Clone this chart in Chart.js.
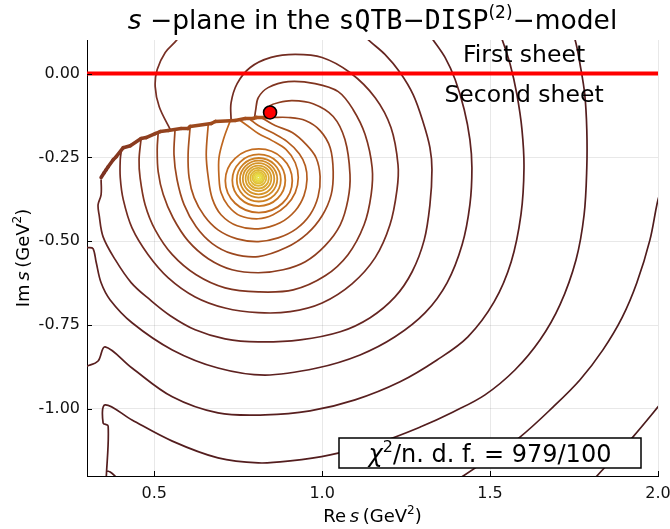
<!DOCTYPE html>
<html>
<head>
<meta charset="utf-8">
<script src="https://cdn.jsdelivr.net/npm/chart.js@4.4.0/dist/chart.umd.min.js"></script>
<style>
  html, body { margin: 0; padding: 0; background: #ffffff; }
  #wrap { width: 670px; height: 529px; }
</style>
</head>
<body>
<div id="wrap"><canvas id="c" width="670" height="529"></canvas></div>
<script>
// ---- axes -------------------------------------------------------------
const reRange = [0.3, 2.0];
const imRange = [-1.2, 0.1];
const reTicks = [0.5, 1.0, 1.5, 2.0];
const imTicks = [0.0, -0.25, -0.5, -0.75, -1.0];

// ---- texts ------------------------------------------------------------
const sheetLabels = ['First sheet', 'Second sheet'];
const chi2Value = '979/100';

// ---- marks ------------------------------------------------------------
// branch point
const branchPoint = [[0.845, -0.116]];
// boundary between the first and the second sheet (Im s = 0)
const sheetBoundary = [[0.3, 0.0], [2.0, 0.0]];
// cut of the continuation: level curves pile up along it
const cutLine = [
  [0.342,-0.310],[0.351,-0.296],[0.357,-0.287],[0.363,-0.278],[0.378,-0.257],[0.387,-0.248],
  [0.408,-0.221],[0.429,-0.215],[0.461,-0.194],[0.476,-0.191],[0.503,-0.179],[0.518,-0.173],
  [0.542,-0.170],[0.580,-0.164],[0.601,-0.164],[0.607,-0.158],[0.670,-0.149],[0.682,-0.143],
  [0.741,-0.140],[0.771,-0.134],[0.795,-0.134],[0.804,-0.131],[0.839,-0.131]
];

// closed level curves around the pole: extreme Re / Im of each curve (inner -> outer)
const ringReMax = [0.8145,0.8189,0.8234,0.8279,0.8338,0.8413,0.8487,0.8576,0.8665,0.8770,0.8904,0.9112];
const ringReMin = [0.8055,0.8011,0.7966,0.7921,0.7862,0.7793,0.7722,0.7639,0.7555,0.7460,0.7326,0.7118];
const ringImMax = [-0.3055,-0.3010,-0.2972,-0.2930,-0.2876,-0.2813,-0.2748,-0.2673,-0.2599,-0.2518,-0.2413,-0.2249];
const ringImMin = [-0.3145,-0.3190,-0.3237,-0.3285,-0.3348,-0.3428,-0.3506,-0.3601,-0.3697,-0.3816,-0.3951,-0.4145];
const ringColors = ['#e8e24c','#e6d743','#e4cc3d','#e1c038','#deb433','#dba830','#d89e2c','#d59429',
                    '#d18a27','#cd8024','#c97622','#c46d21'];

// open level curves, ending on the cut or on the frame
const levelG = [[0.756,-0.140],[0.777,-0.155],[0.810,-0.179],[0.851,-0.200],[0.893,-0.227],[0.920,-0.266],
  [0.929,-0.310],[0.920,-0.355],[0.893,-0.394],[0.854,-0.421],[0.810,-0.433],[0.756,-0.424],[0.720,-0.394],
  [0.699,-0.355],[0.693,-0.310],[0.693,-0.251],[0.708,-0.191],[0.726,-0.142]];
const levelF = [[0.786,-0.137],[0.810,-0.155],[0.851,-0.176],[0.896,-0.203],[0.932,-0.239],[0.950,-0.275],
  [0.955,-0.316],[0.946,-0.364],[0.920,-0.409],[0.875,-0.445],[0.810,-0.463],[0.747,-0.454],[0.699,-0.421],
  [0.673,-0.373],[0.661,-0.310],[0.655,-0.242],[0.661,-0.151]];
const levelE = [[0.822,-0.133],[0.860,-0.155],[0.911,-0.176],[0.953,-0.212],[0.982,-0.251],
  [0.994,-0.307],[0.988,-0.367],[0.964,-0.421],[0.923,-0.463],[0.869,-0.490],[0.810,-0.501],[0.747,-0.493],
  [0.690,-0.466],[0.649,-0.424],[0.619,-0.370],[0.604,-0.310],[0.601,-0.242],[0.607,-0.160]];
const levelD = [[0.851,-0.131],[0.899,-0.131],[0.950,-0.140],[0.994,-0.170],[1.024,-0.221],[1.033,-0.293],
  [1.027,-0.361],[1.000,-0.424],[0.955,-0.478],[0.893,-0.519],[0.810,-0.546],[0.732,-0.537],[0.673,-0.507],
  [0.625,-0.457],[0.589,-0.391],[0.568,-0.316],[0.559,-0.242],[0.562,-0.168]];
const levelC = [[0.830,-0.116],[0.845,-0.096],[0.869,-0.087],[0.911,-0.081],[0.973,-0.090],[1.033,-0.128],
  [1.068,-0.197],[1.083,-0.301],[1.077,-0.376],[1.054,-0.451],[1.009,-0.513],[0.950,-0.561],[0.884,-0.585],
  [0.810,-0.594],[0.732,-0.585],[0.661,-0.552],[0.601,-0.499],[0.556,-0.430],[0.527,-0.361],[0.512,-0.293],
  [0.509,-0.227],[0.512,-0.176]];
const levelB = [[0.799,-0.131],[0.802,-0.110],[0.810,-0.072],[0.839,-0.042],[0.899,-0.024],[0.979,-0.030],
  [1.048,-0.054],[1.092,-0.107],[1.128,-0.182],[1.149,-0.281],[1.146,-0.361],[1.125,-0.451],[1.077,-0.540],
  [1.009,-0.603],[0.914,-0.645],[0.810,-0.651],[0.711,-0.639],[0.625,-0.600],[0.554,-0.540],[0.503,-0.466],
  [0.473,-0.391],[0.458,-0.310],[0.455,-0.257],[0.461,-0.194]];
const levelA = [[0.729,-0.141],[0.729,-0.087],[0.747,-0.030],[0.786,0.018],[0.848,0.048],[0.920,0.057],
  [1.000,0.048],[1.083,0.003],[1.158,-0.072],[1.205,-0.161],[1.226,-0.272],[1.223,-0.346],[1.202,-0.451],
  [1.158,-0.549],[1.089,-0.627],[1.000,-0.684],[0.905,-0.710],[0.810,-0.713],[0.711,-0.699],[0.622,-0.666],
  [0.542,-0.609],[0.482,-0.540],[0.434,-0.460],[0.408,-0.376],[0.399,-0.310],[0.399,-0.257],[0.402,-0.232]];
const levelTop = [[0.577,0.122],[0.568,0.101],[0.533,0.063],[0.509,0.012],[0.503,-0.039],[0.515,-0.099],[0.548,-0.167]];
const level1 = [[1.119,0.122],[1.137,0.101],[1.187,0.057],[1.232,0.003],[1.271,-0.063],[1.301,-0.146],
  [1.321,-0.221],[1.327,-0.287],[1.321,-0.391],[1.304,-0.496],[1.268,-0.591],[1.217,-0.666],[1.143,-0.728],
  [1.054,-0.770],[0.935,-0.794],[0.810,-0.800],[0.711,-0.791],[0.622,-0.764],[0.548,-0.722],[0.488,-0.675],
  [0.432,-0.624],[0.384,-0.555],[0.348,-0.487],[0.336,-0.421],[0.333,-0.391],[0.342,-0.361],[0.342,-0.316]];
const level2 = [[1.315,0.122],[1.330,0.101],[1.366,0.048],[1.396,-0.018],[1.423,-0.107],[1.440,-0.197],
  [1.446,-0.281],[1.440,-0.391],[1.417,-0.510],[1.372,-0.624],[1.307,-0.713],[1.217,-0.785],[1.113,-0.839],
  [0.985,-0.878],[0.830,-0.899],[0.690,-0.878],[0.554,-0.824],[0.434,-0.743],[0.369,-0.675],[0.342,-0.624],
  [0.327,-0.561],[0.318,-0.522],[0.304,-0.519],[0.280,-0.519]];
const level3 = [[1.524,0.122],[1.536,0.101],[1.560,0.027],[1.580,-0.063],[1.595,-0.167],[1.601,-0.281],
  [1.592,-0.421],[1.563,-0.561],[1.512,-0.681],[1.434,-0.785],[1.342,-0.854],[1.232,-0.919],[1.098,-0.973],
  [0.964,-1.006],[0.830,-1.018],[0.690,-1.012],[0.554,-0.964],[0.434,-0.878],[0.354,-0.815],[0.333,-0.857],
  [0.301,-0.872],[0.280,-0.878]];
const level4 = [[1.741,0.122],[1.753,0.101],[1.768,0.027],[1.782,-0.063],[1.788,-0.167],[1.788,-0.281],
  [1.780,-0.421],[1.756,-0.555],[1.708,-0.690],[1.649,-0.794],[1.574,-0.884],[1.485,-0.958],[1.390,-1.009],
  [1.292,-1.054],[1.173,-1.099],[1.024,-1.137],[0.905,-1.155],[0.810,-1.161],[0.690,-1.146],[0.554,-1.096],
  [0.434,-1.033],[0.354,-0.988],[0.348,-1.042],[0.363,-1.051],[0.357,-1.212]];
const level5 = [[2.012,-0.346],[2.000,-0.376],[1.976,-0.496],[1.937,-0.624],[1.893,-0.728],[1.836,-0.824],
  [1.768,-0.913],[1.688,-0.994],[1.589,-1.084],[1.500,-1.146],[1.420,-1.200],[1.396,-1.215]];
const level5Corner = [[0.360,-1.185],[0.369,-1.188],[0.390,-1.206]];
const level6 = [[2.021,-0.967],[2.000,-0.994],[1.925,-1.084],[1.857,-1.158],[1.818,-1.200],[1.803,-1.218]];

const openLevels = [
  [levelG, '#be661f'], [levelF, '#b35c1e'], [levelE, '#a8521e'], [levelD, '#9b471e'],
  [levelC, '#8d3d1f'], [levelB, '#80341f'], [levelA, '#732c21'], [levelTop, '#772f24'],
  [level1, '#652521'], [level2, '#5d2120'], [level3, '#581f1f'], [level4, '#531d1e'],
  [level5, '#4f1c1d'], [level5Corner, '#4f1c1d'], [level6, '#4b1b1c']
];

// ---- build the datasets ----------------------------------------------
const FONT = '"DejaVu Sans", "Liberation Sans", sans-serif';
const MONO = '"DejaVu Sans Mono", "Liberation Mono", monospace';
const toPts = arr => arr.map(p => ({ x: p[0], y: p[1] }));

function ringPath(i) {
  const r = ringReMax[i], l = ringReMin[i], t = ringImMax[i], b = ringImMin[i];
  const mx = (l + r) / 2, my = (t + b) / 2;
  const L = { x: l, y: my }, D = { x: mx, y: b }, R = { x: r, y: my }, U = { x: mx, y: t };
  // walk the curve one and a half times so every quarter gets both neighbours
  return [L, D, R, U, L, D, R, U];
}

function mixColor(c0, c1, f) {
  const c = c0.map((v, k) => Math.round(v + (c1[k] - v) * f));
  return `rgb(${c[0]},${c[1]},${c[2]})`;
}

const datasets = [];
datasets.push({
  data: toPts(branchPoint), showLine: false, pointRadius: 6.5, pointHoverRadius: 6.5,
  pointBackgroundColor: '#ff0000', pointBorderColor: '#000000', pointBorderWidth: 1.6, order: 0
});
datasets.push({
  data: toPts(sheetBoundary), borderColor: '#ff0000', borderWidth: 4, pointRadius: 0, tension: 0, order: 1
});
datasets.push({
  data: toPts(cutLine), borderWidth: 3.6, pointRadius: 0, tension: 0, order: 2,
  borderColor: '#8a3a20', borderCapStyle: 'round', borderJoinStyle: 'round',
  segment: { borderColor: ctx => mixColor([122, 48, 33], [172, 84, 28], ctx.p0DataIndex / (cutLine.length - 1)) }
});
openLevels.forEach(([arr, col], k) => {
  datasets.push({
    data: toPts(arr), borderColor: col, borderWidth: 1.7, pointRadius: 0, tension: 0.35, order: 3 + k
  });
});
ringColors.forEach((col, i) => {
  datasets.push({
    data: ringPath(i), borderColor: col, borderWidth: 1.8, pointRadius: 0, tension: 0.5523, order: 30 + i,
    segment: { borderColor: ctx => (ctx.p0DataIndex === 0 || ctx.p1DataIndex === 7) ? 'rgba(0,0,0,0)' : col }
  });
});

// ---- text helpers ----------------------------------------------------
function runsWidth(ctx, runs) {
  let w = 0;
  runs.forEach(r => { ctx.font = r.f; w += ctx.measureText(r.t).width; });
  return w;
}
function drawRuns(ctx, runs, x, y) {
  let cx = x;
  runs.forEach(r => {
    ctx.font = r.f;
    ctx.fillText(r.t, cx, y + (r.dy || 0));
    cx += ctx.measureText(r.t).width;
  });
}

const titleRuns = [
  { t: 's', f: `italic 26.5px ${FONT}` },
  { t: ' \u2212plane in the ', f: `26.5px ${FONT}` },
  { t: 'sQTB', f: `26.5px ${MONO}` },
  { t: '\u2212', f: `26.5px ${FONT}` },
  { t: 'DISP', f: `26.5px ${MONO}` },
  { t: '(2)', f: `17px ${FONT}`, dy: -11 },
  { t: '\u2212model', f: `26.5px ${FONT}` }
];
const xTitleRuns = [
  { t: 'Re\u2009', f: `18px ${FONT}` },
  { t: 's', f: `italic 18px ${FONT}` },
  { t: '\u2009(GeV', f: `18px ${FONT}` },
  { t: '2', f: `12px ${FONT}`, dy: -8 },
  { t: ')', f: `18px ${FONT}` }
];
const yTitleRuns = [
  { t: 'Im\u2009', f: `18px ${FONT}` },
  { t: 's', f: `italic 18px ${FONT}` },
  { t: '\u2009(GeV', f: `18px ${FONT}` },
  { t: '2', f: `12px ${FONT}`, dy: -8 },
  { t: ')', f: `18px ${FONT}` }
];
const chiRuns = [
  { t: '\u03c7', f: `italic 24px ${FONT}` },
  { t: '2', f: `16px ${FONT}`, dy: -10 },
  { t: '/n. d. f. = ' + chi2Value, f: `24px ${FONT}` }
];

const decorations = {
  id: 'decorations',
  afterDatasetsDraw(chart) {
    const { ctx, chartArea: a, scales } = chart;
    ctx.save();
    // inward tick marks
    ctx.strokeStyle = '#000';
    ctx.lineWidth = 1;
    ctx.beginPath();
    reTicks.forEach(v => {
      const px = Math.round(scales.x.getPixelForValue(v)) + 0.5;
      ctx.moveTo(px, a.bottom); ctx.lineTo(px, a.bottom - 5);
    });
    imTicks.forEach(v => {
      const py = Math.round(scales.y.getPixelForValue(v)) + 0.5;
      ctx.moveTo(a.left, py); ctx.lineTo(a.left + 5, py);
    });
    ctx.stroke();

    // sheet labels
    ctx.fillStyle = '#000';
    ctx.textBaseline = 'alphabetic';
    ctx.textAlign = 'center';
    ctx.font = `23.5px ${FONT}`;
    ctx.fillText(sheetLabels[0], a.right - 134, 62);
    ctx.fillText(sheetLabels[1], a.right - 134, 102);
    ctx.textAlign = 'left';

    // chi^2 box
    const bw = 302, bh = 30, bx = a.right - 17 - bw, by = a.bottom - 8 - bh;
    ctx.fillStyle = '#ffffff';
    ctx.fillRect(bx, by, bw, bh);
    ctx.strokeStyle = '#000';
    ctx.lineWidth = 1.5;
    ctx.strokeRect(bx, by, bw, bh);
    ctx.fillStyle = '#000';
    const cw = runsWidth(ctx, chiRuns);
    drawRuns(ctx, chiRuns, bx + bw / 2 - cw / 2, by + 24);
    ctx.restore();
  },
  afterDraw(chart) {
    const { ctx, chartArea: a } = chart;
    ctx.save();
    ctx.fillStyle = '#000';
    ctx.textBaseline = 'alphabetic';
    ctx.textAlign = 'left';
    // title
    const tw = runsWidth(ctx, titleRuns);
    drawRuns(ctx, titleRuns, (a.left + a.right) / 2 - tw / 2, 29);
    // x title
    const xw = runsWidth(ctx, xTitleRuns);
    drawRuns(ctx, xTitleRuns, (a.left + a.right) / 2 - xw / 2, 522);
    // y title
    const yw = runsWidth(ctx, yTitleRuns);
    ctx.translate(29, (a.top + a.bottom) / 2);
    ctx.rotate(-Math.PI / 2);
    drawRuns(ctx, yTitleRuns, -yw / 2, 0);
    ctx.restore();
  }
};

new Chart(document.getElementById('c'), {
  type: 'line',
  data: { datasets },
  options: {
    responsive: false,
    devicePixelRatio: 1,
    animation: false,
    events: [],
    parsing: true,
    layout: { padding: { top: 40, right: 12, bottom: 0, left: 0 } },
    plugins: { legend: { display: false }, tooltip: { enabled: false }, title: { display: false } },
    scales: {
      x: {
        type: 'linear', min: reRange[0], max: reRange[1],
        afterBuildTicks: s => { s.ticks = reTicks.map(v => ({ value: v })); },
        afterFit: s => { s.height = 53; s.paddingLeft = 0; s.paddingRight = 0; },
        ticks: { callback: v => Number(v).toFixed(1), font: { family: FONT, size: 16 }, color: '#111', padding: 8, maxRotation: 0, autoSkip: false },
        grid: { color: 'rgba(0,0,0,0.09)', lineWidth: 1, drawTicks: false },
        border: { color: '#000', width: 1 }
      },
      y: {
        type: 'linear', min: imRange[0], max: imRange[1],
        afterBuildTicks: s => { s.ticks = imTicks.map(v => ({ value: v })); },
        afterFit: s => { s.width = 87; s.paddingTop = 0; s.paddingBottom = 0; },
        ticks: { callback: v => Number(v).toFixed(2), font: { family: FONT, size: 16 }, color: '#111', padding: 7, autoSkip: false },
        grid: { color: 'rgba(0,0,0,0.09)', lineWidth: 1, drawTicks: false },
        border: { color: '#000', width: 1 }
      }
    }
  },
  plugins: [decorations]
});
</script>
</body>
</html>
